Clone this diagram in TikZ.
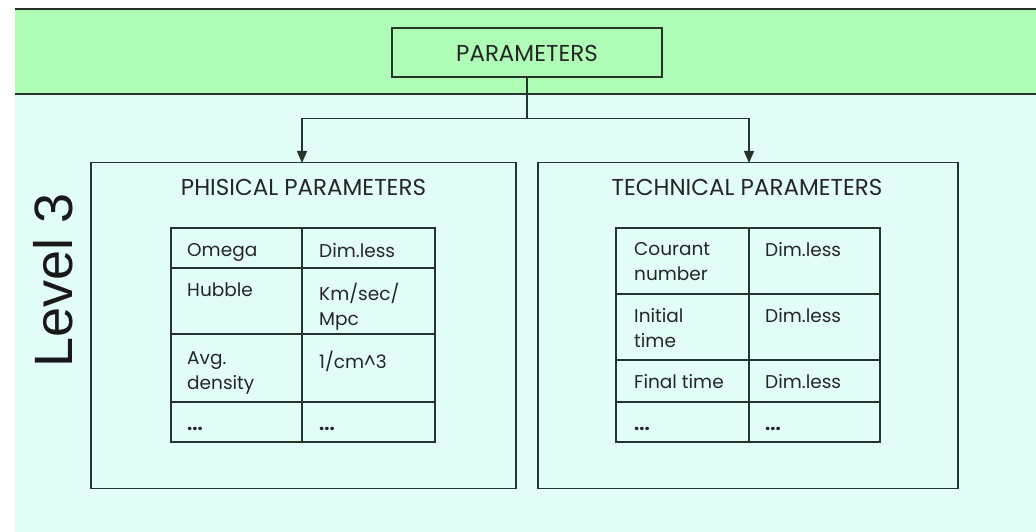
\documentclass[tikz,border=0pt]{standalone}
\usepackage{fontspec}
\setmainfont{Poppins}
\newfontfamily\levelfont{Liberation Sans}
\usetikzlibrary{arrows.meta}
\definecolor{bandgreen}{HTML}{AEFCB6}
\definecolor{bgcyan}{HTML}{E2FDF8}
\definecolor{ink}{HTML}{26352C}
\begin{document}
\begin{tikzpicture}[x=1pt,y=-1pt,
  box/.style={draw=ink, line width=1.6pt, inner sep=0pt},
  title/.style={font=\fontsize{23}{27}\selectfont, text=black!85, inner sep=0pt, anchor=base},
  cell/.style={font=\fontsize{18.5}{25}\selectfont, text=black!85, inner sep=0pt, anchor=north west, align=left},
  dots/.style={font=\fontsize{18.5}{25}\selectfont\bfseries, text=black!85, inner sep=0pt, anchor=base west},
  grid/.style={draw=ink, line width=1.6pt},
  conn/.style={draw=ink, line width=1.4pt},
  tip/.style={-{Triangle[width=10pt,length=12pt]}}
]
\useasboundingbox (0,0) rectangle (1036,532);
\fill[white] (0,0) rectangle (1036,532);
\fill[bgcyan] (15,94) rectangle (1036,532);
\fill[bandgreen] (15,9) rectangle (1036,94);
\draw[ink, line width=2.4pt] (15,9) -- (1036,9);
\draw[ink, line width=2.4pt] (15,94) -- (1036,94);

% top box
\node[box, minimum width=270pt, minimum height=49pt] (params) at (527,52.5) {};
\node[title] (paramstxt) at (527,62) {PARAMETERS};

% group boxes
\node[box, minimum width=425pt, minimum height=326pt] (phys) at (303.5,325.5) {};
\node[box, minimum width=420pt, minimum height=326pt] (tech) at (748,325.5) {};
\node[title] (phystitle) at (303.5,195) {PHISICAL PARAMETERS};
\node[title] (techtitle) at (747,195) {TECHNICAL PARAMETERS};

% connectors
\coordinate (junc) at (527,118.5);
\coordinate (physin) at (302,163);
\coordinate (techin) at (749,163);
\draw[conn] (params.south) -- (junc);
\draw[conn, tip] (junc) -| (physin);
\draw[conn, tip] (junc) -| (techin);

% Level 3
\node[font=\levelfont\fontsize{54}{60}\selectfont, rotate=90, anchor=base west, inner sep=0pt, text=black!90] (level) at (72,368) {Level 3};

% left table
\draw[grid] (171,228) rectangle (435,442);
\draw[grid] (302,228) -- (302,442);
\draw[grid] (171,268) -- (435,268);
\draw[grid] (171,334) -- (435,334);
\draw[grid] (171,402) -- (435,402);
\node[cell] (p11) at (187,243) {Omega};
\node[cell] (p12) at (319,243) {Dim.less};
\node[cell] (p21) at (187,283) {Hubble};
\node[cell] (p22) at (319,283) {Km/sec/\\Mpc};
\node[cell] (p31) at (187,351) {Avg.\\density};
\node[cell] (p32) at (319,351) {1/cm\textasciicircum 3};
\node[dots] (p41) at (187,430) {...};
\node[dots] (p42) at (319,430) {...};

% right table
\draw[grid] (616,228) rectangle (880,442);
\draw[grid] (749,228) -- (749,442);
\draw[grid] (616,294) -- (880,294);
\draw[grid] (616,360) -- (880,360);
\draw[grid] (616,402) -- (880,402);
\node[cell] (t11) at (634,242) {Courant\\number};
\node[cell] (t12) at (765,242) {Dim.less};
\node[cell] (t21) at (634,308) {Initial\\time};
\node[cell] (t22) at (765,308) {Dim.less};
\node[cell] (t31) at (634,374) {Final time};
\node[cell] (t32) at (765,374) {Dim.less};
\node[dots] (t41) at (634,430) {...};
\node[dots] (t42) at (765,430) {...};
\end{tikzpicture}
\end{document}
